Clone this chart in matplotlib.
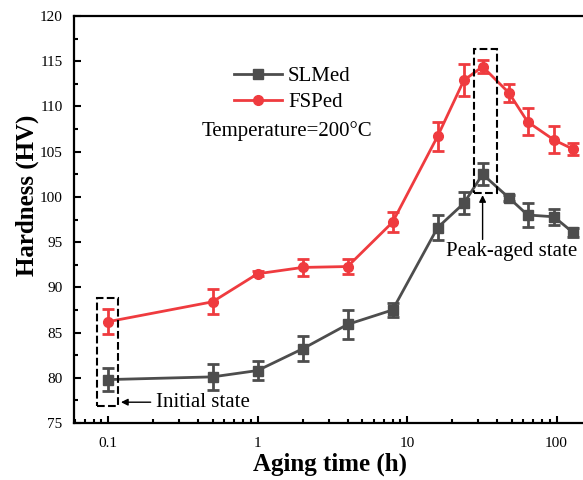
import matplotlib
matplotlib.use('Agg')
import matplotlib.pyplot as plt
from matplotlib.patches import Rectangle
from matplotlib.ticker import AutoMinorLocator, FixedLocator, LogLocator, NullFormatter

plt.rcParams['font.family'] = ['Liberation Serif', 'DejaVu Serif']

# Aging time (h)
hours = [0.1, 0.5, 1, 2, 4, 8, 16, 24, 32, 48, 64, 96, 128]

# Hardness (HV) + error bars
slm = [79.8, 80.1, 80.8, 83.2, 85.9, 87.5, 96.6, 99.3, 102.5, 99.9, 98.0, 97.8, 96.1]
slm_err = [1.3, 1.4, 1.1, 1.4, 1.6, 0.8, 1.4, 1.2, 1.2, 0.3, 1.3, 0.9, 0.5]
fsp = [86.2, 88.4, 91.5, 92.2, 92.3, 97.2, 106.7, 112.9, 114.4, 111.5, 108.3, 106.3, 105.3]
fsp_err = [1.4, 1.4, 0.3, 0.9, 0.8, 1.1, 1.6, 1.8, 0.7, 1.0, 1.5, 1.5, 0.7]

gray = '#4d4d4d'
red = '#ef3b3f'

fig = plt.figure(figsize=(5.83, 4.8), dpi=100)
ax = fig.add_axes([73.8 / 583, 57 / 480, 513.3 / 583, 407 / 480])

ax.plot(hours, slm, '-s', color=gray, lw=2, ms=7, label='SLMed', zorder=3)
ax.errorbar(hours, slm, yerr=slm_err, fmt='none', ecolor=gray, elinewidth=2,
            capsize=4, capthick=2, zorder=3)
ax.plot(hours, fsp, '-o', color=red, lw=2, ms=7, label='FSPed', zorder=4)
ax.errorbar(hours, fsp, yerr=fsp_err, fmt='none', ecolor=red, elinewidth=2,
            capsize=4, capthick=2, zorder=4)

ax.set_xscale('log')
ax.set_xlim(0.059, 160)
ax.set_ylim(75, 120)
ax.xaxis.set_major_locator(FixedLocator([0.1, 1, 10, 100]))
ax.set_xticklabels(['0.1', '1', '10', '100'])
ax.xaxis.set_minor_locator(LogLocator(base=10, subs=range(2, 10)))
ax.xaxis.set_minor_formatter(NullFormatter())
ax.yaxis.set_major_locator(FixedLocator(range(75, 121, 5)))
ax.yaxis.set_minor_locator(AutoMinorLocator(2))

ax.tick_params(which='both', direction='in', width=1.5, labelsize=11, top=False, right=False)
ax.tick_params(which='major', length=5)
ax.tick_params(which='minor', length=3)
ax.tick_params(axis='x', which='major', pad=10)
ax.tick_params(axis='y', which='major', pad=8)
for s in ax.spines.values():
    s.set_linewidth(1.6)

ax.set_xlabel('Aging time (h)', fontsize=18, fontweight='bold', labelpad=2)
ax.set_ylabel('Hardness (HV)', fontsize=18, fontweight='bold')
ax.yaxis.set_label_coords(-0.068, 0.56)

ax.legend(loc='upper left', bbox_to_anchor=(0.312, 0.875), frameon=False, fontsize=15,
          handlelength=2.3, handletextpad=0.3, labelspacing=0.3, borderpad=0, borderaxespad=0)
ax.text(0.425, 107.3, 'Temperature=200\u00b0C', fontsize=15, va='center', ha='left')

# dashed boxes + arrows
ax.add_patch(Rectangle((0.0844, 76.9), 0.1166 - 0.0844, 88.8 - 76.9, fill=False,
                       ls='--', lw=1.5, ec='black', zorder=5))
ax.add_patch(Rectangle((27.9, 100.4), 39.7 - 27.9, 116.4 - 100.4, fill=False,
                       ls='--', lw=1.5, ec='black', zorder=5))
ax.annotate('Initial state', xy=(0.122, 77.3), xytext=(0.21, 77.3), fontsize=15,
            ha='left', va='center',
            arrowprops=dict(arrowstyle='-|>', color='black', lw=1, mutation_scale=10, shrinkA=2, shrinkB=0))
ax.annotate('', xy=(32, 100.2), xytext=(32, 95.3),
            arrowprops=dict(arrowstyle='-|>', color='black', lw=1, mutation_scale=10, shrinkA=0, shrinkB=0))
ax.text(50, 94.0, 'Peak-aged state', fontsize=15, ha='center', va='center')

fig.savefig('out.png', dpi=100)
